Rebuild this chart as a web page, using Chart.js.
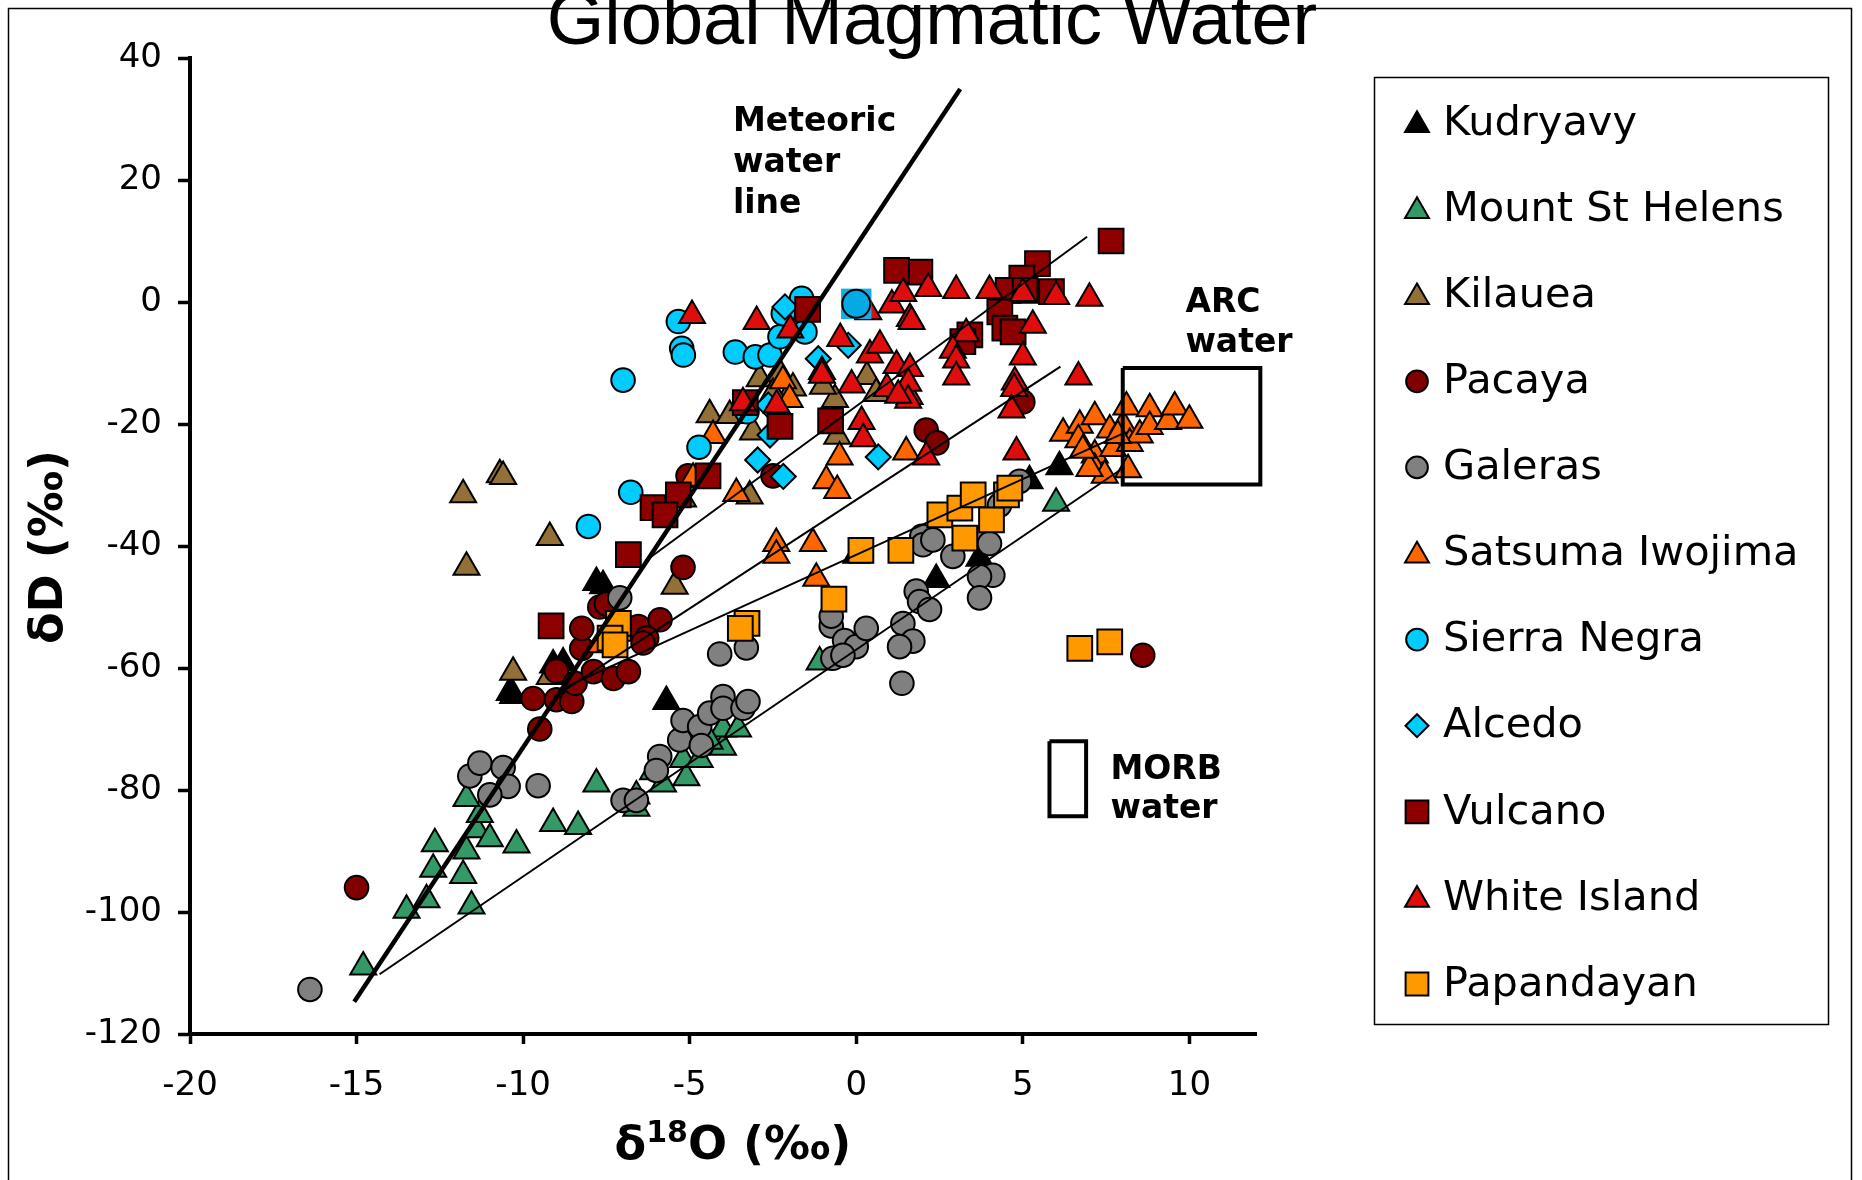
<!DOCTYPE html>
<html><head><meta charset="utf-8">
<script src="https://cdn.jsdelivr.net/npm/chart.js@4.4.1/dist/chart.umd.min.js"></script>
<style>html,body{margin:0;padding:0;background:#fff;}canvas{display:block;}</style>
</head><body>
<canvas id="c" width="1862" height="1180" style="width:1862px;height:1180px"></canvas>
<script>
// ---------------- DATA ----------------
const chartTitle = "Global Magmatic Water";
const seriesNames = ["Kudryavy","Mount St Helens","Kilauea","Pacaya","Galeras","Satsuma Iwojima","Sierra Negra","Alcedo","Vulcano","White Island","Papandayan"];
const xTickValues = [-20,-15,-10,-5,0,5,10];
const yTickValues = [-120,-100,-80,-60,-40,-20,0,20,40];

const kudX = [-7.8,-7.6,-10.4,-10.3,-8.8,-9.1,-5.7,0.0,2.4,3.7,5.2,6.1];
const kudY = [-46,-46.5,-64,-64.5,-59.2,-59.5,-65.5,-41.5,-45.5,-42,-29.3,-27];

const mshX = [-14.8,-13.5,-12.9,-12.7,-12.65,-11.8,-11.55,-11.7,-11.4,-11.3,-11.7,-11.0,-10.2,-9.1,-8.35,-7.8,-6.6,-6.6,-5.8,-6.1,-5.1,-5.2,-4.7,-4.0,-4.0,-3.55,-4.4,-1.1,6.0];
const mshY = [-109,-99.7,-98,-93,-88.8,-94,-99,-90,-86.5,-84,-81.4,-88,-89,-85.5,-86,-79,-83,-81,-79,-77,-78,-75,-75,-73,-70,-70,-72,-59,-33];

const kilX = [-11.8,-10.7,-10.6,-9.2,-11.7,-10.3,-9.2,-5.45,-3.2,-3.6,-3.1,-0.57,-0.64,-1.0,0.32,-2.9,-2.3,-1.9,-4.4,-2.5,0.6,-5.2,-3.8];
const kilY = [-31.6,-28.3,-28.6,-38.6,-43.5,-60.7,-61.4,-46.6,-31.8,-18.3,-21.3,-22,-16,-13.8,-12.2,-12.6,-11.7,-14.1,-18.5,-15,-15,-32.3,-18.6];

const pacX = [-15,-9.5,-9.7,-9.0,-8.54,-9.0,-8.44,-7.89,-7.29,-6.84,-8.24,-8.24,-7.7,-7.5,-6.54,-5.89,-6.29,-6.4,-5.2,-5.05,-2.5,2.1,2.42,5.0,8.6];
const pacY = [-96,-70,-65,-65.2,-65.5,-60.5,-62.5,-60.6,-61.7,-60.6,-56.8,-53.5,-50,-49.5,-53.2,-52.1,-55.1,-55.9,-43.5,-28.5,-28.5,-21,-23.1,-16.4,-57.9];

const galX = [-16.4,-11.6,-11.3,-10.6,-10.45,-11.0,-9.55,-7.0,-6.6,-5.9,-6.0,-5.3,-5.2,-4.7,-4.65,-4.4,-4.0,-4.0,-3.4,-3.25,-7.1,-4.1,-3.3,-0.75,-0.75,-0.35,0,0.3,-0.7,-0.4,1.37,1.4,1.7,1.3,1.8,1.9,1.97,2.0,2.3,2.9,3.7,4.0,4.1,3.7,3.7,2.2,4.9,4.3];
const galY = [-112.7,-77.7,-75.6,-76.3,-79.4,-80.8,-79.3,-81.7,-81.7,-74.5,-76.8,-71.8,-68.6,-69.6,-72.7,-67.4,-64.7,-66.6,-66.6,-65.5,-48.5,-57.7,-56.7,-53.1,-51.5,-55.5,-56.5,-53.5,-58.4,-57.9,-62.5,-52.7,-55.6,-56.5,-47.4,-49.1,-38.4,-39.8,-39,-41.7,-38.8,-39.6,-44.8,-45,-48.5,-50.4,-29.4,-33.3];

const satX = [-4.3,-4.9,-3.6,-2.4,-2.4,-1.3,-1.2,-0.5,-0.9,-0.57,1.5,-2.2,-2.0,-7.7,6.21,6.71,6.67,7.16,7.61,7.16,7.16,7.71,8.01,8.11,8.21,8.51,8.81,8.81,9.36,9.56,10.0,8.16,7.46,7.0,7.85,6.8];
const satY = [-21.9,-28.9,-31.4,-39.6,-41.5,-39.6,-45.3,-25.4,-29.3,-30.9,-24.6,-12.9,-16,-56.2,-21.5,-20.2,-22.6,-18.8,-21,-25.1,-27.3,-24,-20.2,-17.2,-23.2,-21.8,-17.5,-20.4,-19.6,-17.2,-19.4,-27.5,-28.4,-27.3,-21.9,-24.3];

const sieX = [-5.34,-5.24,-5.19,-7.0,-3.63,-3.03,-2.59,-2.29,-2.19,-1.64,-1.54,-4.72,-6.77,-8.04,-3.28];
const sieY = [-3.2,-7.6,-8.7,-12.8,-8.2,-9.0,-8.7,-5.7,-1.9,0.6,-4.9,-23.8,-31.2,-36.8,-18];

const alcX = [-2.14,-1.14,-0.24,-2.96,-2.19,0.66,-2.59,-2.64];
const alcY = [-0.8,-9.3,-7.1,-25.9,-28.6,-25.4,-21.8,-16.9];

const vulX = [-9.16,-3.33,-2.29,-0.77,-4.45,-5.34,-6.1,-5.74,-6.84,-1.46,1.91,1.21,7.65,5.44,4.97,4.56,5.86,4.31,4.46,4.71,3.41,5.07,3.2];
const vulY = [-53.1,-16.5,-20.4,-19.5,-28.5,-31.6,-33.7,-34.9,-41.4,-1.2,4.9,5.2,10,6.3,3.9,1.9,1.7,-1.6,-4.3,-4.9,-5.4,1.9,-6.5];

const whiX = [-4.93,-2.99,-1.98,-0.48,-1.03,0.36,1.07,1.61,1.41,0.41,0.71,1.66,1.21,1.61,2.16,3.0,4.0,5.0,6.0,7.0,3.3,2.9,3.0,3.0,5.3,5.0,4.76,6.67,4.74,4.66,4.81,2.1,1.6,-2.39,0.16,0.21,-0.14,0.92,1.56,1.56,1.26,-1.03,-3.4];
const whiY = [-2.2,-3.2,-4.6,-6.0,-11.4,-1.6,-0.5,-2.7,1.4,-8.7,-7.1,-3.2,-10.4,-10.9,2.2,1.9,1.9,1.4,0.9,0.6,-5.2,-7.9,-9.5,-12.3,-3.8,-9.0,-13.1,-12.3,-14.2,-17.7,-24.6,-25.4,-15.5,-16.9,-19.6,-22.4,-13.6,-14.2,-13.3,-16.1,-15.3,-12,-16.5];

const papX = [0.14,1.34,-0.67,-3.28,-3.48,-7.14,-7.14,-7.39,-7.24,2.51,3.11,3.51,3.26,4.06,4.51,4.61,6.71,7.61];
const papY = [-40.7,-40.7,-48.7,-52.7,-53.5,-53.5,-52.7,-55.1,-56.2,-34.9,-33.8,-31.6,-38.7,-35.7,-31.6,-30.5,-56.8,-55.7];

// highlighted Sierra Negra sample
const hlX = [0.0];
const hlY = [-0.3];

// lines
const meteoricX = [-15.07, 3.12];
const meteoricY = [-114.7, 34.9];
const mix1X = [-14.31, 7.93]; const mix1Y = [-110.2, -27.5];
const mix2X = [-8.8, 8.03];   const mix2Y = [-63.3, -21.5];
const mix3X = [-9.0, 6.13];   const mix3Y = [-64.5, -10.6];
const mix4X = [-6.29, 6.93];  const mix4Y = [-42.3, 10.7];

// boxes (x range, y range)
const arcBoxX = [8.0, 12.13]; const arcBoxY = [-10.8, -29.9];
const morbBoxX = [5.8, 6.9];  const morbBoxY = [-72.0, -84.3];

// ---------------- STYLE ----------------
const seriesX = [kudX,mshX,kilX,pacX,galX,satX,sieX,alcX,vulX,whiX,papX];
const seriesY = [kudY,mshY,kilY,pacY,galY,satY,sieY,alcY,vulY,whiY,papY];
const seriesStyle = [
  {shape:'triangle', color:'#000000'},
  {shape:'triangle', color:'#339966'},
  {shape:'triangle', color:'#927038'},
  {shape:'circle',   color:'#800000'},
  {shape:'circle',   color:'#808080'},
  {shape:'triangle', color:'#FF6600'},
  {shape:'circle',   color:'#00CCFF'},
  {shape:'rectRot',  color:'#00CCFF'},
  {shape:'rect',     color:'#8E0000'},
  {shape:'triangle', color:'#E00D0D'},
  {shape:'rect',     color:'#FF9900'}
];
const radiusFor = {triangle:15, circle:11.8, rect:17.5, rectRot:12.5};
const FONT = '"DejaVu Sans", Verdana, sans-serif';

const pts = (xs, ys) => xs.map((x, i) => ({x: x, y: ys[i]}));
const boxPts = (bx, by) => [
  {x:bx[0],y:by[0]},{x:bx[1],y:by[0]},{x:bx[1],y:by[1]},{x:bx[0],y:by[1]},{x:bx[0],y:by[0]}
];

const datasets = [];
function lineDs(xs, ys, w) {
  return {label:'_line', data: pts(xs, ys), showLine:true, borderColor:'#000', borderWidth:w,
          pointRadius:0, fill:false, order:0, borderCapStyle:'butt'};
}
datasets.push(lineDs(meteoricX, meteoricY, 4.5));
datasets.push(lineDs(mix1X, mix1Y, 2));
datasets.push(lineDs(mix2X, mix2Y, 2));
datasets.push(lineDs(mix3X, mix3Y, 2));
datasets.push(lineDs(mix4X, mix4Y, 2));
datasets.push({label:'_arc', data: boxPts(arcBoxX, arcBoxY), showLine:true, borderColor:'#000', borderWidth:4, pointRadius:0, order:1, clip:false, borderJoinStyle:'miter'});
datasets.push({label:'_morb', data: boxPts(morbBoxX, morbBoxY), showLine:true, borderColor:'#000', borderWidth:4, pointRadius:0, order:1, clip:false, borderJoinStyle:'miter'});

seriesNames.forEach((name, i) => {
  const st = seriesStyle[i];
  datasets.push({
    label: name, data: pts(seriesX[i], seriesY[i]), showLine:false,
    pointStyle: st.shape, pointRadius: radiusFor[st.shape],
    backgroundColor: st.color, borderColor:'#000', pointBorderWidth:2, borderWidth:2,
    order: 30 - i
  });
});
// highlight (square backdrop + larger circle)
datasets.push({label:'_hlsq', data: pts(hlX, hlY), pointStyle:'rect', pointRadius:21.5,
  backgroundColor:'#17ACE6', borderColor:'#17ACE6', borderWidth:0, pointBorderWidth:0, order:6});
datasets.push({label:'_hlc', data: pts(hlX, hlY), pointStyle:'circle', pointRadius:14,
  backgroundColor:'#05A9E4', borderColor:'#000', borderWidth:2, pointBorderWidth:2, order:5});

// ---------------- PLUGINS ----------------
const decor = {
  id: 'decor',
  beforeDraw(chart) {
    const ctx = chart.ctx;
    ctx.save();
    ctx.fillStyle = '#fff';
    ctx.fillRect(0, 0, chart.width, chart.height);
    ctx.strokeStyle = '#000';
    ctx.lineWidth = 1.5;
    ctx.strokeRect(8.5, 8.5, 1843, 1200);
    ctx.restore();
  },
  afterDraw(chart) {
    const ctx = chart.ctx;
    const xs = chart.scales.x, ys = chart.scales.y;
    ctx.save();
    // title
    ctx.fillStyle = '#000';
    ctx.font = '74px "Liberation Sans", Arial, sans-serif';
    ctx.textAlign = 'center';
    ctx.textBaseline = 'alphabetic';
    ctx.fillText(chartTitle, 932, 44);

    // annotations
    ctx.font = 'bold 33px ' + FONT;
    ctx.textAlign = 'left';
    const ann = (lines, x, y, gap) => {
      const px = xs.getPixelForValue(x), py = ys.getPixelForValue(y);
      lines.forEach((t, k) => ctx.fillText(t, px, py + k * gap));
    };
    ann(['Meteoric', 'water', 'line'], -3.7, 28, 41);
    ann(['ARC', 'water'], 9.88, -1.56, 40);
    ann(['MORB', 'water'], 7.63, -78.2, 39);

    // axis titles
    ctx.font = 'bold 46px ' + FONT;
    ctx.save();
    ctx.translate(50, 547);
    ctx.rotate(-Math.PI / 2);
    ctx.textAlign = 'center';
    ctx.textBaseline = 'middle';
    ctx.fillText('\u03B4D (\u2030)', 0, 0);
    ctx.restore();

    const big = 'bold 46px ' + FONT, small = 'bold 30px ' + FONT;
    ctx.font = big; const w1 = ctx.measureText('\u03B4').width, w3 = ctx.measureText('O (\u2030)').width;
    ctx.font = small; const w2 = ctx.measureText('18').width;
    let x0 = 733 - (w1 + w2 + w3) / 2;
    const base = 1159;
    ctx.textAlign = 'left'; ctx.textBaseline = 'alphabetic';
    ctx.font = big; ctx.fillText('\u03B4', x0, base); x0 += w1;
    ctx.font = small; ctx.fillText('18', x0, base - 17); x0 += w2;
    ctx.font = big; ctx.fillText('O (\u2030)', x0, base);

    // legend
    ctx.strokeStyle = '#000';
    ctx.lineWidth = 1.5;
    ctx.strokeRect(1374.5, 77.5, 454, 947);
    seriesNames.forEach((name, i) => {
      const st = seriesStyle[i];
      const y = 124 + i * 86.1;
      ctx.fillStyle = st.color;
      ctx.strokeStyle = '#000';
      ctx.lineWidth = 2;
      Chart.helpers.drawPoint(ctx, {pointStyle: st.shape, radius: radiusFor[st.shape] * 0.92, rotation: 0, borderWidth: 2}, 1417, y + (st.shape === 'triangle' ? 1 : -1));
      ctx.fillStyle = '#000';
      ctx.font = '41.5px ' + FONT;
      ctx.textAlign = 'left';
      ctx.textBaseline = 'middle';
      ctx.fillText(name, 1443, y);
    });
    ctx.restore();
  }
};

new Chart(document.getElementById('c'), {
  type: 'scatter',
  data: { datasets },
  plugins: [decor],
  options: {
    responsive: false,
    animation: false,
    events: [],
    layout: { padding: { left: 0, top: 58, right: 606, bottom: 0 } },
    plugins: { legend: { display: false }, tooltip: { enabled: false }, title: { display: false } },
    scales: {
      x: {
        type: 'linear', min: -20, max: 12, position: 'bottom',
        afterBuildTicks: (s) => { s.ticks = xTickValues.map(v => ({value: v})); },
        afterFit: (s) => { s.height = 146; },
        grid: { drawOnChartArea: false, drawTicks: true, tickLength: 10, tickWidth: 3.5, tickColor: '#000' },
        border: { display: true, color: '#000', width: 4 },
        ticks: { color: '#000', font: { family: FONT, size: 34 }, padding: 22, maxRotation: 0, autoSkip: false }
      },
      y: {
        type: 'linear', min: -120, max: 40, position: 'left',
        afterBuildTicks: (s) => { s.ticks = yTickValues.map(v => ({value: v})); },
        afterFit: (s) => { s.width = 190; },
        grid: { drawOnChartArea: false, drawTicks: true, tickLength: 12, tickWidth: 3.5, tickColor: '#000' },
        border: { display: true, color: '#000', width: 4 },
        ticks: { color: '#000', font: { family: FONT, size: 34 }, padding: 16, autoSkip: false }
      }
    }
  }
});
</script>
</body></html>
